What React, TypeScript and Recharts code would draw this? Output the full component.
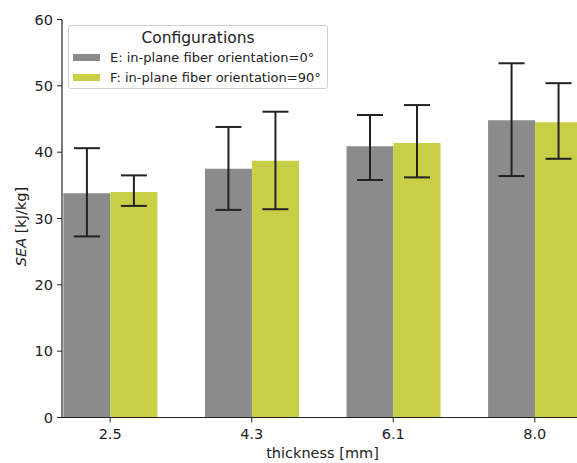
import * as React from "react"
import { Bar, BarChart, ErrorBar, Legend, XAxis, YAxis } from "recharts"

const thickness = ["2.5", "4.3", "6.1", "8.0"]
const seaE = [33.8, 37.5, 40.9, 44.8]
const seaEUpper = [40.6, 43.8, 45.6, 53.4]
const seaELower = [27.3, 31.3, 35.8, 36.4]
const seaF = [34.0, 38.7, 41.4, 44.5]
const seaFUpper = [36.5, 46.1, 47.1, 50.4]
const seaFLower = [31.9, 31.4, 36.2, 39.0]
const yTicks = [0, 10, 20, 30, 40, 50, 60]

const GRAY = "#8b8b8b"
const YELLOW = "#c9ce47"
const INK = "#222222"
const FONT = "'DejaVu Sans', sans-serif"

const chartData = thickness.map((t, i) => ({
    thickness: t,
    E: seaE[i],
    errE: [seaE[i] - seaELower[i], seaEUpper[i] - seaE[i]],
    F: seaF[i],
    errF: [seaF[i] - seaFLower[i], seaFUpper[i] - seaF[i]],
}))

const LegendBox = () => (
    <div
        style={{
            width: 260,
            height: 64,
            boxSizing: "border-box",
            border: "1px solid #cfcfcf",
            borderRadius: 3,
            background: "rgba(255,255,255,0.85)",
            fontFamily: FONT,
            color: INK,
        }}
    >
        <div style={{ textAlign: "center", fontSize: 15.5, lineHeight: "18px", marginTop: 3 }}>Configurations</div>
        {[
            { color: GRAY, label: "E: in-plane fiber orientation=0°" },
            { color: YELLOW, label: "F: in-plane fiber orientation=90°" },
        ].map((item) => (
            <div key={item.label} style={{ display: "flex", alignItems: "center", height: 20, fontSize: 13 }}>
                <div style={{ width: 27, height: 7, background: item.color, marginLeft: 4, marginRight: 10 }} />
                <span>{item.label}</span>
            </div>
        ))}
    </div>
)

const YLabel = ({ viewBox }: any) => {
    const cy = viewBox.y + viewBox.height / 2 + 8
    return (
        <text
            x={21}
            y={cy}
            transform={`rotate(-90, 21, ${cy})`}
            textAnchor="middle"
            dominantBaseline="central"
            fontFamily={FONT}
            fontSize={14.5}
            fill={INK}
        >
            <tspan fontStyle="italic">SEA</tspan>
            <tspan> [kJ/kg]</tspan>
        </text>
    )
}

export default function App() {
    return (
        <div
            style={{
                position: "fixed",
                left: 0,
                top: 0,
                width: 577,
                height: 463,
                overflow: "hidden",
                background: "#fff",
            }}
        >
            <BarChart
                width={620}
                height={463}
                data={chartData}
                margin={{ top: 19.5, right: 37, left: 20, bottom: 0 }}
                barGap={0}
                barSize={47}
            >
                <XAxis
                    dataKey="thickness"
                    height={45.5}
                    padding={{ left: -22.6, right: -22.6 }}
                    axisLine={{ stroke: INK, strokeWidth: 1.2 }}
                    tickLine={{ stroke: INK }}
                    tickSize={5}
                    tickMargin={6}
                    tick={{ fontSize: 14.5, fontFamily: FONT, fill: INK }}
                    label={{ value: "thickness [mm]", position: "insideBottom", offset: 5, fontSize: 14.5, fontFamily: FONT, fill: INK }}
                />
                <XAxis
                    xAxisId="top"
                    orientation="top"
                    dataKey="thickness"
                    height={0}
                    tick={false}
                    tickLine={false}
                    axisLine={{ stroke: INK, strokeWidth: 1.2 }}
                />
                <YAxis
                    width={42}
                    domain={[0, 60]}
                    ticks={yTicks}
                    interval={0}
                    axisLine={{ stroke: INK, strokeWidth: 1.2 }}
                    tickLine={{ stroke: INK }}
                    tickSize={5}
                    tickMargin={4}
                    tick={{ fontSize: 14.5, fontFamily: FONT, fill: INK }}
                    label={<YLabel />}
                />
                <Legend
                    layout="horizontal"
                    verticalAlign="middle"
                    align="center"
                    content={<LegendBox />}
                    wrapperStyle={{ position: "absolute", left: 68, top: 25, width: 260, height: 64 }}
                />
                <Bar dataKey="E" fill={GRAY} isAnimationActive={false} legendType="rect">
                    <ErrorBar dataKey="errE" width={13} stroke={INK} strokeWidth={2} direction="y" isAnimationActive={false} />
                </Bar>
                <Bar dataKey="F" fill={YELLOW} isAnimationActive={false} legendType="rect">
                    <ErrorBar dataKey="errF" width={13} stroke={INK} strokeWidth={2} direction="y" isAnimationActive={false} />
                </Bar>
            </BarChart>
        </div>
    )
}
